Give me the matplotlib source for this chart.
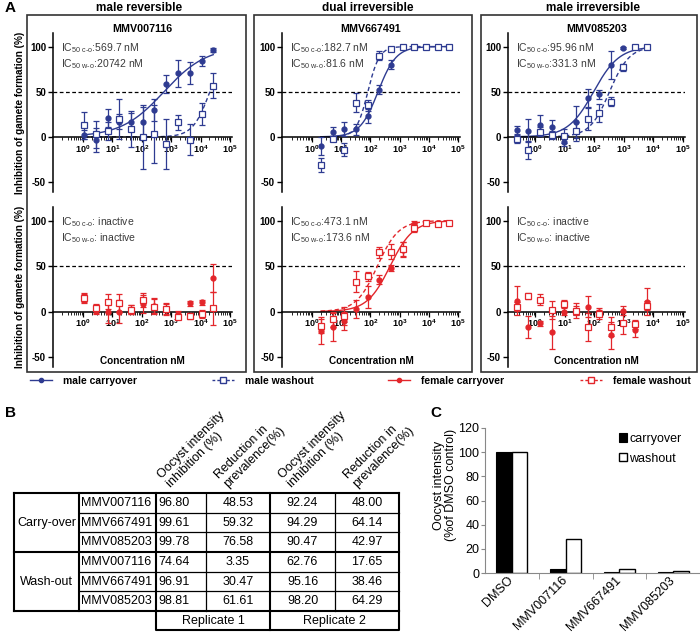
import numpy as np
import matplotlib
matplotlib.use('Agg')
import matplotlib.pyplot as plt
from matplotlib.lines import Line2D
from matplotlib.patches import Rectangle, Patch
from matplotlib.ticker import LogLocator, FixedLocator, NullFormatter

plt.rcParams['font.family'] = ['Liberation Sans', 'DejaVu Sans']
plt.rcParams['mathtext.fontset'] = 'custom'
plt.rcParams['mathtext.rm'] = 'Liberation Sans'
plt.rcParams['mathtext.bf'] = 'Liberation Sans:bold'
plt.rcParams['mathtext.it'] = 'Liberation Sans:italic'

# ---------------- data: panel A (dose response) ----------------
conc_007116 = [1.1, 2.8, 7, 17, 43, 110, 270, 690, 1700, 4300, 10800, 27000]
conc_667491 = [2, 5.1, 12.8, 32, 81, 200, 510, 1300, 3200, 8000, 20000, 51000]
conc_085203 = [0.24, 0.6, 1.5, 3.8, 9.5, 24, 60, 150, 380, 950, 2400, 6000]

# male
m007_car = [2.2, -3.7, 20.7, 17, 16, 16, 30, 59, 70.5, 71, 84, 96]
m007_car_err = [5, 13, 10, 8, 10, 17, 12, 10, 15, 12, 6, 2]
m007_wsh = [13, 3, 6.6, 19.6, 9, 0, 3.3, -8, 16, -3, 25.5, 56.5]
m007_wsh_err = [15, 15, 10, 22, 20, 35, 32, 28, 8, 17, 12, 14]

m667_car = [-10, 5, 8.5, 8.5, 23, 52, 79.6, 100, 100, 100, 100, 100]
m667_car_err = [10, 6, 8, 6, 8, 5, 5, 1, 1, 1, 1, 1]
m667_wsh = [-31, -2, -14, 38, 35, 90, 97, 99, 100, 100, 100, 100]
m667_wsh_err = [8, 3, 7, 11, 6, 5, 2, 1, 1, 1, 1, 1]

m085_car = [7.4, 7, 13, 11, -5.5, 16.7, 42.6, 47, 79.6, 98, 100, 100]
m085_car_err = [5, 13, 11, 8, 5, 18, 10, 5, 16, 1, 1, 1]
m085_wsh = [-2, -15, 5.5, 2, 1, 6, 20, 26, 39, 77, 99, 100]
m085_wsh_err = [5, 10, 5, 4, 8, 10, 12, 10, 5, 4, 1, 1]

# female
f007_car = [15.8, 1.8, 0, 0, 1.8, 8.5, 6.6, 3, -2.6, 9, 10, 36.8]
f007_car_err = [5, 5, 13, 13, 5, 10, 8, 6, 3, 3, 3, 15]
f007_wsh = [14.7, 3.7, 11, 9, 1.8, 12.9, 5.5, 2.6, -5.5, -4.8, -2.6, 3.7]
f007_wsh_err = [5, 5, 8, 10, 5, 8, 8, 6, 3, 3, 4, 18]

f667_car = [-21, -17, -10, 2.6, 16, 35, 48, 68, 96, 97.4, 97.4, 97.4]
f667_car_err = [15, 15, 10, 10, 12, 5, 3, 8, 4, 2, 2, 2]
f667_wsh = [-16, -8.5, -5, 33, 38.6, 65, 66, 69, 92, 97.4, 96, 97]
f667_wsh_err = [8, 8, 10, 12, 5, 6, 8, 8, 5, 2, 2, 2]

f085_car = [12, -17, -13, -23, 0, 1, 5.5, 0, -26, 1, -20, 11]
f085_car_err = [16, 12, 3, 18, 4, 5, 12, 4, 15, 5, 8, 15]
f085_wsh = [5.5, 17, 13, 1.8, 8.5, 1, -17, -3, -16.5, -13, -14, 6.6]
f085_wsh_err = [5, 3, 6, 10, 4, 8, 15, 5, 10, 12, 5, 5]

# fitted IC50 (nM) and hill slopes, None = inactive
ic50_male = [(569.7, 20742), (182.7, 81.6), (95.96, 331.3)]
hill_male = [(0.6, 1.5), (1.4, 2.2), (1.0, 1.3)]
ic50_female = [(None, None), (473.1, 173.6), (None, None)]
hill_female = [(None, None), (1.1, 1.2), (None, None)]

groups = ['male reversible', 'dual irreversible', 'male irreversible']
compounds = ['MMV007116', 'MMV667491', 'MMV085203']

# ---------------- data: panel B (table) ----------------
tbl_groups = ['Carry-over', 'Wash-out']
tbl_compounds = ['MMV007116', 'MMV667491', 'MMV085203']
rep1_intensity = ['96.80', '99.61', '99.78', '74.64', '96.91', '98.81']
rep1_prevalence = ['48.53', '59.32', '76.58', '3.35', '30.47', '61.61']
rep2_intensity = ['92.24', '94.29', '90.47', '62.76', '95.16', '98.20']
rep2_prevalence = ['48.00', '64.14', '42.97', '17.65', '38.46', '64.29']
tbl_headers = ['Oocyst intensity\ninhibition (%)', 'Reduction in\nprevalence(%)',
               'Oocyst intensity\ninhibition (%)', 'Reduction in\nprevalence(%)']

# ---------------- data: panel C (bars) ----------------
c_categories = ['DMSO', 'MMV007116', 'MMV667491', 'MMV085203']
c_carryover = [100, 3.3, 0.8, 0.8]
c_washout = [100, 28.5, 3.0, 1.3]

BLUE = '#2e3b91'
RED = '#e3262b'
W, H = 700, 636

fig = plt.figure(figsize=(W / 100, H / 100), dpi=100)


def px_ax(l, t, r, b):
    return fig.add_axes([l / W, 1 - b / H, (r - l) / W, (b - t) / H])


ov = fig.add_axes([0, 0, 1, 1])
ov.set_xlim(0, W)
ov.set_ylim(H, 0)
ov.axis('off')
ov.set_zorder(-1)


def hill(x, ic, h):
    return 100.0 / (1.0 + (ic / x) ** h)


def dose_panel(ax, conc, car, car_err, wsh, wsh_err, col, ics, hills, xlo, bottom):
    ax.set_xscale('log')
    ax.set_xlim(10 ** xlo, 10 ** 5.07)
    ax.set_ylim(-61, 115)
    ax.set_facecolor('none')
    for s in ['top', 'right']:
        ax.spines[s].set_visible(False)
    ax.spines['bottom'].set_position(('data', 0))
    ax.spines['left'].set_linewidth(1.1)
    ax.spines['bottom'].set_linewidth(1.1)
    ax.set_yticks([-50, 0, 50, 100])
    ax.set_yticklabels(['-50', '0', '50', '100'], fontsize=7, fontweight='bold')
    ax.xaxis.set_major_locator(FixedLocator(10.0 ** np.arange(0, 6)))
    ax.set_xticklabels([r'$\mathbf{10^{%d}}$' % k for k in range(6)], fontsize=6.5)
    ax.xaxis.set_minor_locator(LogLocator(base=10, subs=np.arange(2, 10), numticks=20))
    ax.xaxis.set_minor_formatter(NullFormatter())
    ax.tick_params(axis='x', which='major', length=3.5, width=0.9, pad=1)
    ax.tick_params(axis='x', which='minor', length=2.5, width=0.6)
    ax.tick_params(axis='y', length=3.5, width=1, pad=1.5)
    ax.axhline(50, ls=(0, (3, 2)), color='black', lw=0.9, zorder=1)
    xs = np.logspace(np.log10(conc[0]), np.log10(conc[-1]), 300)
    if ics[0] is not None:
        ax.plot(xs, hill(xs, ics[0], hills[0]), color=col, lw=1, zorder=2)
        ax.plot(xs, hill(xs, ics[1], hills[1]), color=col, lw=1, ls=(0, (3, 2)), zorder=2)
    ax.errorbar(conc, car, yerr=car_err, fmt='o', ms=3.5, color=col, ecolor=col,
                elinewidth=0.9, capsize=2, capthick=0.9, zorder=3)
    ax.errorbar(conc, wsh, yerr=wsh_err, fmt='s', ms=5, mfc='white', mec=col, mew=0.9,
                color=col, ecolor=col, elinewidth=0.9, capsize=2, capthick=0.9, zorder=4)
    if bottom:
        ax.text(0.5, 6 / 160, 'Concentration nM', transform=ax.transAxes, ha='center',
                va='center', fontsize=7.2, fontweight='bold')


axes_x = [(53, 232, -1.02), (282, 460, -1.03), (508, 685, -0.91)]
top_rows = (33, 192)
bot_rows = (207, 367)

male_sets = [
    (conc_007116, m007_car, m007_car_err, m007_wsh, m007_wsh_err),
    (conc_667491, m667_car, m667_car_err, m667_wsh, m667_wsh_err),
    (conc_085203, m085_car, m085_car_err, m085_wsh, m085_wsh_err),
]
female_sets = [
    (conc_007116, f007_car, f007_car_err, f007_wsh, f007_wsh_err),
    (conc_667491, f667_car, f667_car_err, f667_wsh, f667_wsh_err),
    (conc_085203, f085_car, f085_car_err, f085_wsh, f085_wsh_err),
]


def ic_text(ic):
    if ic is None:
        return ': inactive'
    return ':%s nM' % ('%g' % ic if ic < 10000 else '%d' % ic)


for k in range(3):
    l, r, xlo = axes_x[k]
    ax_t = px_ax(l, top_rows[0], r, top_rows[1])
    dose_panel(ax_t, *male_sets[k], BLUE, ic50_male[k], hill_male[k], xlo, False)
    ax_b = px_ax(l, bot_rows[0], r, bot_rows[1])
    dose_panel(ax_b, *female_sets[k], RED, ic50_female[k], hill_female[k], xlo, True)
    for row, ics in [(top_rows, ic50_male[k]), (bot_rows, ic50_female[k])]:
        ov.text(l + 8, row[0] + 15, r'IC$_{\text{50 c-o}}$' + ic_text(ics[0]),
                fontsize=7.5, color='#3a3a3a', va='center')
        ov.text(l + 8, row[0] + 31, r'IC$_{\text{50 w-o}}$' + ic_text(ics[1]),
                fontsize=7.5, color='#3a3a3a', va='center')
    cx = (l + r) / 2
    ov.text(cx - 3, 8, groups[k], ha='center', va='center', fontsize=8.5, fontweight='bold')
    ov.text(cx, 29, compounds[k], ha='center', va='center', fontsize=7.7, fontweight='bold')

# panel boxes
for (bl, br) in [(27, 246), (254, 472), (481, 697)]:
    ov.add_patch(Rectangle((bl, 15), br - bl, 357, fill=False, ec='#333333', lw=1.2))

for yc in [112.5, 287]:
    ov.text(20, yc, 'Inhibition of gamete formation (%)', rotation=90, ha='center',
            va='center', fontsize=7.2, fontweight='bold')

# legend row for A
leg_items = [
    (30, Line2D([], [], color=BLUE, marker='o', ms=3, lw=1), 'male carryover'),
    (212, Line2D([], [], color=BLUE, marker='s', ms=4, mfc='white', lw=1, ls=(0, (2, 1.5))),
     'male washout'),
    (388, Line2D([], [], color=RED, marker='o', ms=3, lw=1), 'female carryover'),
    (580, Line2D([], [], color=RED, marker='s', ms=4, mfc='white', lw=1, ls=(0, (2, 1.5))),
     'female washout'),
]
for xp, h, lab in leg_items:
    fig.legend([h], [lab], loc='center left', bbox_to_anchor=(xp / W, 1 - 381 / H),
               frameon=False, borderpad=0, borderaxespad=0, handlelength=2.1,
               handletextpad=1.1, prop={'size': 7.5, 'weight': 'bold'})

# panel letters
ov.text(5, 8, 'A', fontsize=11, fontweight='bold', va='center')
ov.text(5, 413, 'B', fontsize=11, fontweight='bold', va='center')
ov.text(430, 413, 'C', fontsize=11, fontweight='bold', va='center')

# ---------------- panel B table ----------------
tb_x = [14, 79, 156, 206, 270, 335, 399]
tb_top = 493
rh = 19.67
ry = [tb_top + i * rh for i in range(7)]
thick, thin = 1.5, 0.9
for x in [14, 79, 156, 270, 399]:
    ov.plot([x, x], [ry[0], ry[6]], color='black', lw=thick, solid_capstyle='projecting')
for x in [206, 335]:
    ov.plot([x, x], [ry[0], ry[6]], color='black', lw=thin)
for i in [0, 3, 6]:
    ov.plot([14, 399], [ry[i], ry[i]], color='black', lw=thick, solid_capstyle='projecting')
for i in [1, 2, 4, 5]:
    ov.plot([79, 399], [ry[i], ry[i]], color='black', lw=thin)
rep_bottom = ry[6] + 19
ov.plot([156, 156, 399, 399], [ry[6], rep_bottom, rep_bottom, ry[6]], color='black', lw=thick)
ov.plot([270, 270], [ry[6], rep_bottom], color='black', lw=thick)
ov.text(213, (ry[6] + rep_bottom) / 2, 'Replicate 1', ha='center', va='center', fontsize=9)
ov.text(334.5, (ry[6] + rep_bottom) / 2, 'Replicate 2', ha='center', va='center', fontsize=9)

for g, name in enumerate(tbl_groups):
    ov.text((tb_x[0] + tb_x[1]) / 2, ry[3 * g] + 1.5 * rh, name, ha='center', va='center',
            fontsize=9)
tbl_values = [rep1_intensity, rep1_prevalence, rep2_intensity, rep2_prevalence]
for i in range(6):
    yc = ry[i] + rh / 2
    ov.text(81, yc, tbl_compounds[i % 3], ha='left', va='center', fontsize=9)
    ov.text(158, yc, tbl_values[0][i], ha='left', va='center', fontsize=9)
    for c in range(1, 4):
        ov.text((tb_x[c + 2] + tb_x[c + 3]) / 2, yc, tbl_values[c][i], ha='center',
                va='center', fontsize=9)
for c in range(4):
    cx = (tb_x[c + 2] + tb_x[c + 3]) / 2
    ov.text(cx - 8, 490, tbl_headers[c], rotation=45, rotation_mode='anchor', ha='left',
            va='bottom', fontsize=9, linespacing=1.1)

# ---------------- panel C bars ----------------
axc = px_ax(485, 428, 700, 573)
xc = np.arange(len(c_categories))
axc.bar(xc - 0.145, c_carryover, width=0.29, color='black', edgecolor='black', lw=0.8,
        label='carryover')
axc.bar(xc + 0.145, c_washout, width=0.29, color='white', edgecolor='black', lw=1,
        label='washout')
axc.set_xlim(-0.5, 3.5)
axc.set_ylim(0, 120)
axc.set_yticks(np.arange(0, 121, 20))
axc.tick_params(axis='y', labelsize=9, length=3, color='#888888', pad=1)
axc.set_xticks(xc)
axc.set_xticklabels(c_categories, rotation=45, ha='right', va='center',
                    rotation_mode='anchor', fontsize=9)
axc.tick_params(axis='x', which='major', length=0, pad=4)
for lbl in axc.get_xticklabels():
    lbl.set_x(lbl.get_position()[0])
axc.set_xticks([0.5, 1.5, 2.5, 3.5], minor=True)
axc.tick_params(axis='x', which='minor', length=4, color='#888888')
for s in ['top', 'right']:
    axc.spines[s].set_visible(False)
for s in ['left', 'bottom']:
    axc.spines[s].set_color('#888888')
fig.text(445 / W, 1 - 485 / H, 'Oocyst intensity\n(%of DMSO control)', rotation=90,
         ha='center', va='center', fontsize=9, linespacing=0.95)
fig.legend(handles=[Patch(fc='black', ec='black', lw=0.8), Patch(fc='white', ec='black', lw=1)],
           labels=['carryover', 'washout'], loc='upper left',
           bbox_to_anchor=(619 / W, 1 - 433 / H), frameon=False, borderpad=0,
           borderaxespad=0, handlelength=0.65, handleheight=0.65, handletextpad=0.15,
           labelspacing=0.6, fontsize=9)

fig.savefig('out.png', dpi=100)
